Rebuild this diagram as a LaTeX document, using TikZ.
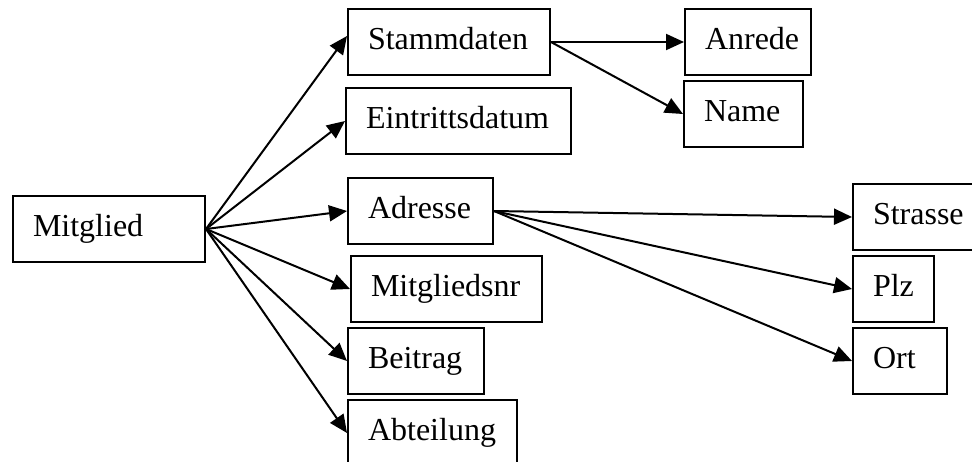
\documentclass[tikz,border=0pt]{standalone}
\usepackage{fontspec}
\setmainfont{Liberation Serif}
\usepackage{tikz}
\usetikzlibrary{arrows.meta}
\hyphenpenalty=10000
\tikzstyle{box} = [draw, line width=2pt, rectangle, anchor=north west, inner xsep=20pt, inner ysep=0pt, minimum height=66pt, text height=22pt, text depth=8pt, align=left, font=\fontsize{32}{38}\selectfont]
\tikzstyle{arr} = [line width=2pt, -{Triangle[length=18pt,width=16pt]}]

\begin{document}
\begin{tikzpicture}[x=1pt,y=-1pt]
			\clip (0,0) rectangle (972,461);
			\node[box,text width=152pt] (mitglied) at (12,195) {Mitglied};
			\node[box,text width=162pt] (stammdaten) at (347,8) {Stammdaten};
			\node[box,text width=185pt] (eintritt) at (345,87) {Eintrittsdatum};
			\node[box,text width=105pt] (adresse) at (347,177) {Adresse};
			\node[box,text width=151pt] (mitgliedsnr) at (350,255) {Mitgliedsnr};
			\node[box,text width=96pt] (beitrag) at (347,327) {Beitrag};
			\node[box,text width=129pt] (abteilung) at (347,399) {Abteilung};
			\node[box,text width=86pt] (anrede) at (684,8) {Anrede};
			\node[box,text width=79pt] (name) at (683,80) {Name};
			\node[box,text width=93pt] (strasse) at (852,183) {Strasse};
			\node[box,text width=41pt] (plz) at (852,255) {Plz};
			\node[box,text width=54pt] (ort) at (852,327) {Ort};
			\draw[arr] (mitglied.east) -- ([yshift=6pt]stammdaten.west);
			\draw[arr] (mitglied.east) -- (eintritt.west);
			\draw[arr] (mitglied.east) -- (adresse.west);
			\draw[arr] (mitglied.east) -- (mitgliedsnr.west);
			\draw[arr] (mitglied.east) -- (beitrag.west);
			\draw[arr] (mitglied.east) -- (abteilung.west);
			\draw[arr] (stammdaten.east) -- (anrede.west);
			\draw[arr] (stammdaten.east) -- (name.west);
			\draw[arr] (adresse.east) -- (strasse.west);
			\draw[arr] (adresse.east) -- (plz.west);
			\draw[arr] (adresse.east) -- (ort.west);
		\end{tikzpicture}
\end{document}
